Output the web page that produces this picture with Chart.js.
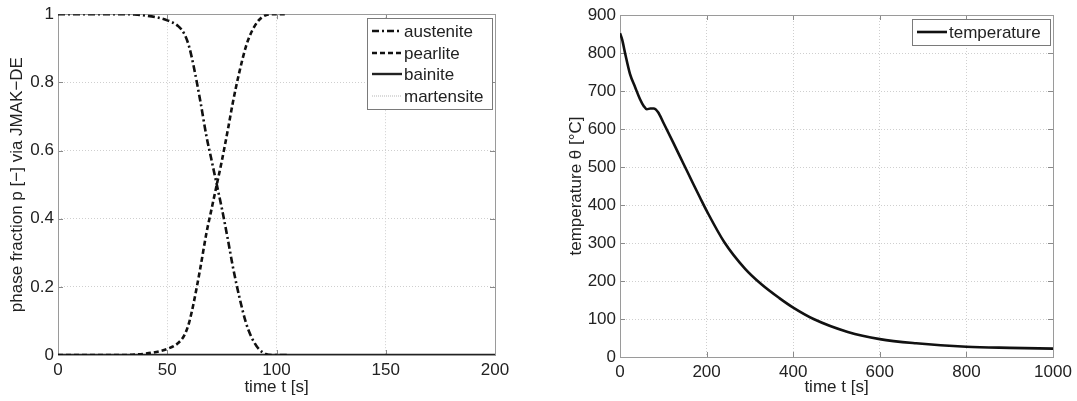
<!DOCTYPE html>
<html>
<head>
<meta charset="utf-8">
<script src="https://cdn.jsdelivr.net/npm/chart.js@4.4.1/dist/chart.umd.min.js"></script>
<style>
    html, body { margin: 0; padding: 0; background: #fff; }
    #wrap { position: relative; width: 1077px; height: 401px; }
    .panel { position: absolute; top: 0; height: 401px; }
    #phase-box { left: 0; width: 540px; }
    #temp-box { left: 538px; width: 539px; }
</style>
</head>
<body>
<div id="wrap">
    <div class="panel" id="phase-box"><canvas id="phase-chart"></canvas></div>
    <div class="panel" id="temp-box"><canvas id="temp-chart"></canvas></div>
</div>
<script>
// left panel: phase fractions
const phaseTime = [0, 10, 20, 30, 35, 40, 45, 50, 55, 58, 60, 62, 65, 68, 70, 72, 73, 75, 78, 80, 83, 86, 88, 90, 92, 95, 98, 100, 105];
const austenite = [1, 1, 1, 1, 0.999, 0.996, 0.991, 0.982, 0.965, 0.94, 0.905, 0.85, 0.75, 0.64, 0.58, 0.52, 0.49, 0.43, 0.33, 0.26, 0.17, 0.095, 0.06, 0.035, 0.017, 0.003, 0, 0, 0];
const pearlite = [0, 0, 0, 0, 0.001, 0.004, 0.009, 0.018, 0.035, 0.06, 0.095, 0.15, 0.25, 0.36, 0.42, 0.48, 0.51, 0.57, 0.67, 0.74, 0.83, 0.905, 0.94, 0.965, 0.983, 0.997, 1, 1, 1];
const fullTime = [0, 50, 100, 150, 200];
const bainite = [0, 0, 0, 0, 0];
const martensite = [0, 0, 0, 0, 0];
const phaseXTicks = [0, 50, 100, 150, 200];
const phaseYTicks = [0, 0.2, 0.4, 0.6, 0.8, 1];

// right panel: temperature
const tempTime = [0, 5, 12, 23, 35, 46, 55, 62, 70, 78, 88, 100, 123, 146, 169, 185, 200, 241, 289, 328, 368, 400, 447, 526, 600, 684, 800, 900, 1000];
const temperature = [852, 835, 798, 745, 710, 679, 660, 652, 654, 654, 644, 617, 564, 510, 456, 419, 385, 302, 232, 190, 155, 130, 100, 66, 47, 36, 27, 24, 22];
const tempXTicks = [0, 200, 400, 600, 800, 1000];
const tempYTicks = [0, 100, 200, 300, 400, 500, 600, 700, 800, 900];

const FONT = '"Liberation Sans", Arial, Helvetica, sans-serif';
Chart.defaults.font.family = FONT;
Chart.defaults.font.size = 17;
Chart.defaults.color = '#222';

function pts(xs, ys) {
    return xs.map((x, i) => ({ x: x, y: ys[i] }));
}

// matlab style box + inward tick marks
const framePlugin = {
    id: 'frame',
    beforeDatasetsDraw(chart) {
        const { ctx, chartArea: a, scales: { x, y } } = chart;
        ctx.save();
        ctx.strokeStyle = '#8a8a8a';
        ctx.lineWidth = 1;
        ctx.beginPath();
        x.ticks.forEach(t => {
            const px = Math.round(x.getPixelForValue(t.value)) + 0.5;
            ctx.moveTo(px, a.bottom); ctx.lineTo(px, a.bottom - 5);
            ctx.moveTo(px, a.top); ctx.lineTo(px, a.top + 5);
        });
        y.ticks.forEach(t => {
            const py = Math.round(y.getPixelForValue(t.value)) + 0.5;
            ctx.moveTo(a.left, py); ctx.lineTo(a.left + 5, py);
            ctx.moveTo(a.right, py); ctx.lineTo(a.right - 5, py);
        });
        ctx.stroke();
        ctx.strokeStyle = '#9a9a9a';
        ctx.strokeRect(Math.round(a.left) + 0.5, Math.round(a.top) + 0.5, Math.round(a.width), Math.round(a.height));
        ctx.restore();
    }
};

const boxLegend = {
    id: 'boxLegend',
    afterDraw(chart) {
        const { ctx, chartArea: a } = chart;
        const sets = chart.data.datasets;
        ctx.save();
        ctx.font = '17px ' + FONT;
        const textW = Math.max(...sets.map(d => ctx.measureText(d.label).width));
        const rowH = 21.7;
        const w = Math.round(5 + 30 + 2 + textW + 9);
        const h = Math.round(sets.length * rowH + 4);
        const right = Math.round(a.right) - 3;
        const top = Math.round(a.top) + 4;
        const left = right - w;
        ctx.fillStyle = '#fff';
        ctx.fillRect(left, top, w, h);
        ctx.strokeStyle = '#7a7a7a';
        ctx.lineWidth = 1;
        ctx.strokeRect(left + 0.5, top + 0.5, w, h);
        sets.forEach((d, i) => {
            const cy = Math.round(top + 13 + i * rowH);
            ctx.beginPath();
            ctx.setLineDash(d.borderDash || []);
            ctx.lineWidth = d.borderWidth;
            ctx.strokeStyle = d.borderColor;
            ctx.moveTo(left + 5, cy);
            ctx.lineTo(left + 35, cy);
            ctx.stroke();
            ctx.setLineDash([]);
            ctx.fillStyle = '#222';
            ctx.textBaseline = 'middle';
            ctx.fillText(d.label, left + 37, cy + 1);
        });
        ctx.restore();
    }
};

function axisOptions(cfg) {
    return {
        responsive: true,
        maintainAspectRatio: false,
        animation: false,
        layout: { padding: cfg.padding },
        plugins: { legend: { display: false }, tooltip: { enabled: false } },
        elements: { point: { radius: 0 }, line: { cubicInterpolationMode: 'monotone' } },
        scales: {
            x: {
                type: 'linear',
                min: cfg.xTicks[0],
                max: cfg.xTicks[cfg.xTicks.length - 1],
                afterBuildTicks: s => { s.ticks = cfg.xTicks.map(v => ({ value: v })); },
                afterFit: s => { s.height = cfg.xHeight; },
                grid: { color: '#cfcfcf', lineWidth: 1, drawTicks: false },
                border: { display: false, dash: [1, 2] },
                ticks: { padding: 5, maxRotation: 0, autoSkip: false, callback: v => String(v) },
                title: { display: true, text: 'time t [s]', padding: { top: 0, bottom: 3 } }
            },
            y: {
                type: 'linear',
                min: cfg.yTicks[0],
                max: cfg.yTicks[cfg.yTicks.length - 1],
                afterBuildTicks: s => { s.ticks = cfg.yTicks.map(v => ({ value: v })); },
                afterFit: s => { s.width = cfg.yWidth; },
                grid: { color: '#cfcfcf', lineWidth: 1, drawTicks: false },
                border: { display: false, dash: [1, 2] },
                ticks: { padding: 4, autoSkip: false, callback: v => String(v) },
                title: { display: true, text: cfg.yTitle, padding: { top: cfg.yTitlePad, bottom: 0 } }
            }
        }
    };
}

new Chart(document.getElementById('phase-chart'), {
    type: 'line',
    data: {
        datasets: [{
            label: 'austenite',
            data: pts(phaseTime, austenite),
            borderColor: '#111',
            borderWidth: 2.6,
            borderDash: [7, 3, 2, 3]
        },
        {
            label: 'pearlite',
            data: pts(phaseTime, pearlite),
            borderColor: '#111',
            borderWidth: 2.6,
            borderDash: [5, 3]
        },
        {
            label: 'bainite',
            data: pts(fullTime, bainite),
            borderColor: '#222',
            borderWidth: 2.4
        },
        {
            label: 'martensite',
            data: pts(fullTime, martensite),
            borderColor: '#b5b5b5',
            borderWidth: 1,
            borderDash: [1, 1]
        }]
    },
    options: axisOptions({
        padding: { left: 0, top: 14, right: 45, bottom: 0 },
        xTicks: phaseXTicks,
        yTicks: phaseYTicks,
        xHeight: 46,
        yWidth: 58,
        yTitle: 'phase fraction p [\u2212] via JMAK\u2212DE',
        yTitlePad: 7
    }),
    plugins: [framePlugin, boxLegend]
});

new Chart(document.getElementById('temp-chart'), {
    type: 'line',
    data: {
        datasets: [{
            label: 'temperature',
            data: pts(tempTime, temperature),
            borderColor: '#111',
            borderWidth: 2.6
        }]
    },
    options: axisOptions({
        padding: { left: 0, top: 15, right: 24, bottom: 0 },
        xTicks: tempXTicks,
        yTicks: tempYTicks,
        xHeight: 44,
        yWidth: 82,
        yTitle: 'temperature \u03b8 [\u00b0C]',
        yTitlePad: 28
    }),
    plugins: [framePlugin, boxLegend]
});
</script>
</body>
</html>
